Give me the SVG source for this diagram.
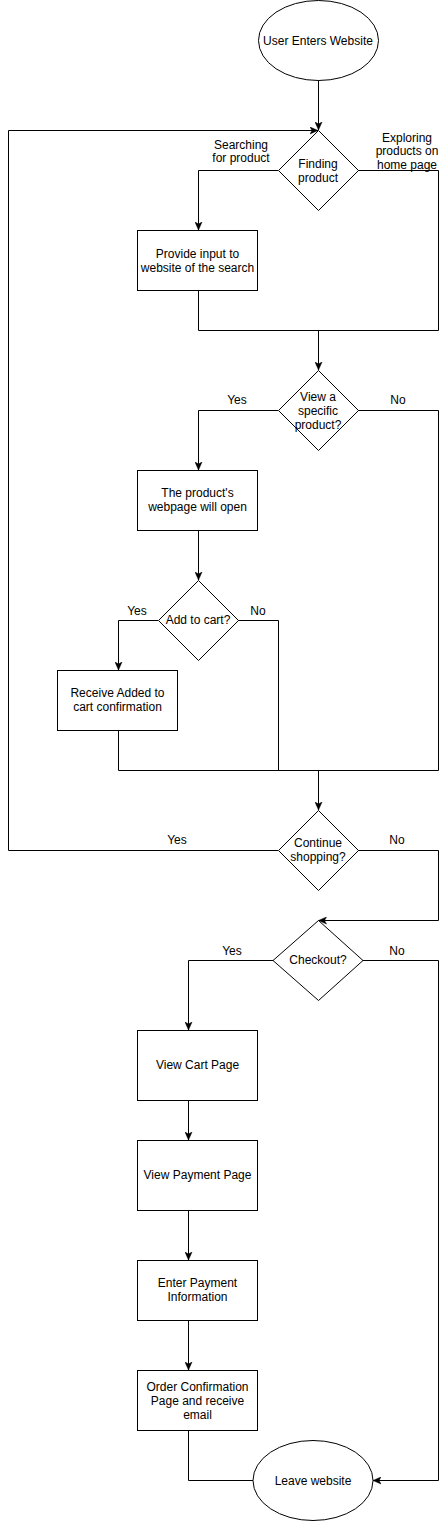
<svg xmlns="http://www.w3.org/2000/svg" width="448" height="1521" viewBox="0 0 448 1521">
<style>
.n{fill:#fff;stroke:#000;stroke-width:1}
.c{fill:none;stroke:#000;stroke-width:1}
.a{marker-end:url(#arr)}
text{font-family:"Liberation Sans",Arial,sans-serif;font-size:12px;fill:#000;text-anchor:middle}
</style>
<defs>
<marker id="arr" markerUnits="userSpaceOnUse" markerWidth="10" markerHeight="8" refX="8" refY="4" orient="auto">
<path d="M0,0.5 L8,4 L0,7.5 L2,4 z" fill="#000" stroke="#000" stroke-width="0.5"/>
</marker>
</defs>
<rect width="448" height="1521" fill="#fff"/>
<g id="connectors">
<path class="c a" d="M318.5,80 V130"/>
<path class="c a" d="M8.5,850.5 V130.5 H318"/>
<path class="c a" d="M278,170.5 H198.5 V230"/>
<path class="c" d="M358,170.5 H438.5 V330.5 H198.5 V290"/>
<path class="c a" d="M318.5,330.5 V370"/>
<path class="c a" d="M278,410.5 H198.5 V470"/>
<path class="c" d="M358,410.5 H438.5 V770.5"/>
<path class="c a" d="M198.5,530 V580"/>
<path class="c a" d="M158,620.5 H118.5 V670"/>
<path class="c" d="M238,620.5 H278.5 V770.5"/>
<path class="c" d="M118.5,730 V770.5 H438.5"/>
<path class="c a" d="M318.5,770.5 V810"/>
<path class="c" d="M278,850.5 H8.5"/>
<path class="c a" d="M358,850.5 H438.5 V920.5 H318.5"/>
<path class="c a" d="M273,960.5 H188.5 V1030"/>
<path class="c a" d="M363,960.5 H438.5 V1480.5 H373"/>
<path class="c a" d="M188.5,1100 V1140"/>
<path class="c a" d="M188.5,1210 V1260"/>
<path class="c a" d="M188.5,1320 V1370"/>
<path class="c" d="M188.5,1430 V1480.5 H253"/>
<text x="241" y="149">Searching</text>
<text x="241" y="162">for product</text>
<text x="407" y="142">Exploring</text>
<text x="407" y="155">products on</text>
<text x="407" y="169">home page</text>
<text x="237" y="404">Yes</text>
<text x="398" y="404">No</text>
<text x="137" y="615">Yes</text>
<text x="258" y="615">No</text>
<text x="177" y="844">Yes</text>
<text x="397" y="844">No</text>
<text x="232" y="955">Yes</text>
<text x="397" y="955">No</text>
</g>
<g id="start">
<ellipse class="n" cx="318.5" cy="40.5" rx="60" ry="40"/>
<text x="318" y="45">User Enters Website</text>
</g>
<g id="finding">
<polygon class="n" points="318.5,130.5 358.5,170.5 318.5,210.5 278.5,170.5"/>
<text x="318" y="168">Finding</text>
<text x="318" y="182">product</text>
</g>
<g id="provide">
<rect class="n" x="137.5" y="230.5" width="120" height="60"/>
<text x="197.5" y="258">Provide input to</text>
<text x="197.5" y="272">website of the search</text>
</g>
<g id="view-specific">
<polygon class="n" points="318.5,370.5 358.5,410.5 318.5,450.5 278.5,410.5"/>
<text x="318" y="401">View a</text>
<text x="318" y="415">specific</text>
<text x="318" y="429">product?</text>
</g>
<g id="webpage">
<rect class="n" x="137.5" y="470.5" width="120" height="60"/>
<text x="197.5" y="497">The product's</text>
<text x="197.5" y="511">webpage will open</text>
</g>
<g id="add-cart">
<polygon class="n" points="198.5,580.5 238.5,620.5 198.5,660.5 158.5,620.5"/>
<text x="198" y="624">Add to cart?</text>
</g>
<g id="added">
<rect class="n" x="57.5" y="670.5" width="120" height="60"/>
<text x="117.5" y="697">Receive Added to</text>
<text x="117.5" y="711">cart confirmation</text>
</g>
<g id="continue">
<polygon class="n" points="318.5,810.5 358.5,850.5 318.5,890.5 278.5,850.5"/>
<text x="318" y="847">Continue</text>
<text x="318" y="861">shopping?</text>
</g>
<g id="checkout">
<polygon class="n" points="318.5,920.5 363,960.5 318.5,1000.5 273,960.5"/>
<text x="318" y="964">Checkout?</text>
</g>
<g id="cart-page">
<rect class="n" x="137.5" y="1030.5" width="120" height="70"/>
<text x="197.5" y="1069">View Cart Page</text>
</g>
<g id="payment-page">
<rect class="n" x="137.5" y="1140.5" width="120" height="70"/>
<text x="197.5" y="1179">View Payment Page</text>
</g>
<g id="enter-payment">
<rect class="n" x="137.5" y="1260.5" width="120" height="60"/>
<text x="197.5" y="1287">Enter Payment</text>
<text x="197.5" y="1301">Information</text>
</g>
<g id="order-confirm">
<rect class="n" x="137.5" y="1370.5" width="120" height="60"/>
<text x="197.5" y="1391">Order Confirmation</text>
<text x="197.5" y="1405">Page and receive</text>
<text x="197.5" y="1419">email</text>
</g>
<g id="leave">
<ellipse class="n" cx="313" cy="1480.5" rx="60" ry="40"/>
<text x="313" y="1485">Leave website</text>
</g>
</svg>
